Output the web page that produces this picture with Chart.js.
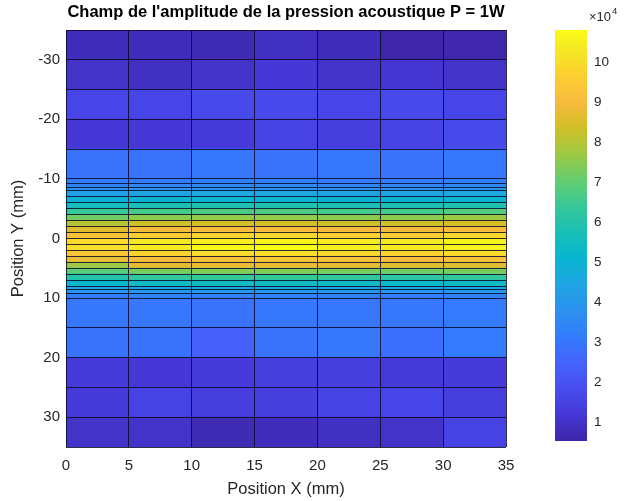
<!DOCTYPE html>
<html>
<head>
<meta charset="utf-8">
<title>Champ de pression acoustique</title>
<script src="https://cdn.jsdelivr.net/npm/chart.js@4.4.0/dist/chart.umd.min.js"></script>
<style>
  body { margin: 0; background: #fff; }
  #wrap { position: relative; width: 624px; height: 501px; }
  #mainChart { position: absolute; left: 0; top: 0; }
  #barChart { position: absolute; left: 540px; top: 0; }
</style>
</head>
<body>
<div id="wrap">
  <canvas id="mainChart" width="540" height="501"></canvas>
  <canvas id="barChart" width="84" height="501"></canvas>
</div>
<script>
// grid of the measurement (mm)
const xEdges = [0, 5, 10, 15, 20, 25, 30, 35];
const yEdges = [-35, -30, -25, -20, -15, -10, -9.3, -8.6, -8, -7, -6, -5, -4, -3, -2, -1, 0,
                1, 2, 3, 4, 5, 6, 7, 8, 8.6, 9.3, 10, 15, 20, 25, 30, 35];
const xTicks = [0, 5, 10, 15, 20, 25, 30, 35];
const yTicks = [-30, -20, -10, 0, 10, 20, 30];
const colorbarTicks = [1, 2, 3, 4, 5, 6, 7, 8, 9, 10];

// pressure amplitude (x 10^4), one row per band of Y, one value per band of X
const pressure = [
  [0.8, 0.8, 0.7, 0.9, 0.8, 0.52, 0.6],
  [1.0, 0.9, 1.0, 1.2, 1.0, 1.1, 1.0],
  [1.6, 1.6, 1.7, 1.7, 1.6, 1.7, 1.6],
  [1.2, 1.2, 1.3, 1.5, 1.4, 1.5, 1.7],
  [2.9, 2.9, 3.0, 2.9, 3.0, 2.9, 3.0],
  [3.1, 3.1, 3.2, 3.2, 3.1, 3.1, 3.2],
  [3.4, 3.4, 3.5, 3.5, 3.4, 3.4, 3.5],
  [3.8, 3.8, 3.9, 3.9, 3.8, 3.8, 3.9],
  [4.3, 4.4, 4.5, 4.5, 4.4, 4.4, 4.5],
  [4.9, 5.0, 5.1, 5.1, 5.0, 5.0, 5.1],
  [5.6, 5.8, 5.9, 5.9, 5.8, 5.8, 5.9],
  [6.4, 6.6, 6.7, 6.7, 6.6, 6.6, 6.8],
  [7.2, 7.5, 7.6, 7.6, 7.5, 7.5, 7.7],
  [8.0, 8.3, 8.4, 8.4, 8.3, 8.3, 8.4],
  [8.6, 8.9, 9.1, 9.1, 9.0, 8.9, 9.1],
  [9.3, 9.6, 9.8, 9.9, 9.7, 9.6, 9.9],
  [9.9, 10.3, 10.5, 10.6, 10.4, 10.3, 10.6],
  [10.0, 10.4, 10.7, 10.8, 10.5, 10.4, 10.6],
  [9.4, 9.8, 10.0, 10.1, 9.9, 9.8, 10.0],
  [8.8, 9.1, 9.3, 9.4, 9.2, 9.1, 9.2],
  [7.7, 8.7, 8.8, 8.8, 8.7, 8.6, 8.6],
  [6.9, 7.3, 7.4, 7.4, 7.3, 7.2, 7.3],
  [6.0, 6.3, 6.4, 6.4, 6.3, 6.2, 6.3],
  [5.2, 5.4, 5.5, 5.5, 5.4, 5.3, 5.4],
  [4.5, 4.6, 4.7, 4.7, 4.6, 4.6, 4.6],
  [3.9, 4.0, 4.0, 4.0, 4.0, 3.9, 4.0],
  [3.3, 3.4, 3.4, 3.4, 3.4, 3.3, 3.4],
  [3.0, 3.0, 2.9, 3.0, 3.0, 3.0, 3.1],
  [2.9, 2.9, 2.4, 2.9, 3.0, 2.8, 3.1],
  [1.3, 1.2, 1.3, 1.4, 1.4, 1.3, 1.3],
  [1.3, 1.5, 1.4, 1.4, 1.5, 1.6, 1.4],
  [1.0, 1.0, 0.7, 0.8, 0.9, 1.0, 1.5]
];

// parula colormap (every 4th entry of the 64 colour table)
const parula = [
  [62, 38, 168], [69, 55, 213], [72, 77, 240], [69, 99, 253], [50, 124, 252],
  [43, 145, 239], [32, 165, 227], [8, 181, 208], [25, 191, 182], [55, 200, 151],
  [100, 205, 111], [157, 201, 67], [209, 191, 39], [248, 186, 61], [252, 207, 48],
  [245, 233, 36], [249, 251, 21]
];
const parulaPos = [0, 4, 8, 12, 16, 20, 24, 28, 32, 36, 40, 44, 48, 52, 56, 60, 63].map(i => i / 63);

const allValues = pressure.flat();
const cMin = Math.min(...allValues);
const cMax = Math.max(...allValues);

function parulaColor(t) {
    t = Math.max(0, Math.min(1, t));
    let i = 0;
    while (i < parulaPos.length - 2 && t > parulaPos[i + 1]) i++;
    const f = (t - parulaPos[i]) / (parulaPos[i + 1] - parulaPos[i]);
    const a = parula[i], b = parula[i + 1];
    const c = a.map((v, k) => Math.round(v + (b[k] - v) * f));
    return `rgb(${c[0]},${c[1]},${c[2]})`;
}

Chart.defaults.font.family = '"Liberation Sans", Arial, sans-serif';
Chart.defaults.color = '#262626';

const edgeColor = 'rgba(10,10,40,0.85)';

// one floating bar per cell of the pcolor grid
const cells = [];
const cellColors = [];
pressure.forEach((row, r) => {
    row.forEach((v, c) => {
        cells.push({ x: (xEdges[c] + xEdges[c + 1]) / 2, y: [yEdges[r], yEdges[r + 1]] });
        cellColors.push(parulaColor((v - cMin) / (cMax - cMin)));
    });
});

new Chart(document.getElementById('mainChart'), {
    type: 'bar',
    data: {
        datasets: [{
            data: cells,
            backgroundColor: cellColors,
            borderWidth: 0,
            inflateAmount: 0.5,
            grouped: false,
            categoryPercentage: 1,
            barPercentage: 1
        }]
    },
    options: {
        responsive: false,
        animation: false,
        devicePixelRatio: 1,
        layout: { padding: { left: 0, right: 34, top: 0, bottom: 0 } },
        plugins: {
            legend: { display: false },
            tooltip: { enabled: false },
            title: {
                display: true,
                fullSize: false,
                text: "Champ de l'amplitude de la pression acoustique P = 1W",
                color: '#000',
                font: { size: 16.5, weight: 'bold' },
                padding: { top: 3, bottom: 7.2 }
            }
        },
        scales: {
            x: {
                type: 'linear',
                offset: false,
                min: 0,
                max: 35,
                afterBuildTicks: s => { s.ticks = xTicks.map(v => ({ value: v })); },
                afterFit: s => { s.height = 54; },
                grid: { display: true, offset: false, drawTicks: false, color: edgeColor, lineWidth: 1, z: 1 },
                border: { display: false },
                ticks: { padding: 10, font: { size: 15 } },
                title: { display: true, text: 'Position X (mm)', font: { size: 16.5 }, padding: { top: 0, bottom: 2 } }
            },
            y: {
                type: 'linear',
                reverse: true,
                min: -35,
                max: 35,
                afterBuildTicks: s => { s.ticks = yTicks.map(v => ({ value: v })); },
                afterFit: s => { s.width = 66; },
                grid: { display: false, drawTicks: false },
                border: { display: false },
                ticks: { padding: 6, font: { size: 15 } },
                title: { display: true, text: 'Position Y (mm)', font: { size: 16.5 }, padding: { top: 9, bottom: 0 } }
            },
            yEdge: {
                type: 'linear',
                position: 'left',
                reverse: true,
                min: -35,
                max: 35,
                afterBuildTicks: s => { s.ticks = yEdges.map(v => ({ value: v })); },
                afterFit: s => { s.width = 0; },
                grid: { display: true, offset: false, drawTicks: false, color: edgeColor, lineWidth: 1, z: 1 },
                border: { display: false },
                ticks: { display: false }
            }
        }
    }
});

// colour bar
const exponentLabel = {
    id: 'exponentLabel',
    afterDraw(chart) {
        const { ctx, chartArea } = chart;
        ctx.save();
        ctx.fillStyle = '#262626';
        ctx.font = '13px "Liberation Sans", Arial, sans-serif';
        ctx.fillText('\u00d710', chartArea.right + 2, chartArea.top - 9);
        const w = ctx.measureText('\u00d710').width;
        ctx.font = '9.5px "Liberation Sans", Arial, sans-serif';
        ctx.fillText('4', chartArea.right + 3 + w, chartArea.top - 16);
        ctx.restore();
    }
};

new Chart(document.getElementById('barChart'), {
    type: 'bar',
    data: {
        labels: [''],
        datasets: [{
            data: [[cMin, cMax]],
            backgroundColor: (context) => {
                const area = context.chart.chartArea;
                if (!area) return null;
                const g = context.chart.ctx.createLinearGradient(0, area.bottom, 0, area.top);
                parula.forEach((c, i) => g.addColorStop(parulaPos[i], `rgb(${c[0]},${c[1]},${c[2]})`));
                return g;
            },
            borderWidth: 0,
            inflateAmount: 0,
            categoryPercentage: 1,
            barPercentage: 1
        }]
    },
    options: {
        responsive: false,
        animation: false,
        devicePixelRatio: 1,
        layout: { padding: { left: 15, right: 0, top: 30, bottom: 60 } },
        plugins: { legend: { display: false }, tooltip: { enabled: false } },
        scales: {
            x: { display: false },
            y: {
                position: 'right',
                min: cMin,
                max: cMax,
                afterBuildTicks: s => { s.ticks = colorbarTicks.map(v => ({ value: v })); },
                afterFit: s => { s.width = 37; },
                grid: { display: false, drawTicks: false },
                border: { display: false },
                ticks: { padding: 7, font: { size: 13.5 } }
            }
        }
    },
    plugins: [exponentLabel]
});
</script>
</body>
</html>
